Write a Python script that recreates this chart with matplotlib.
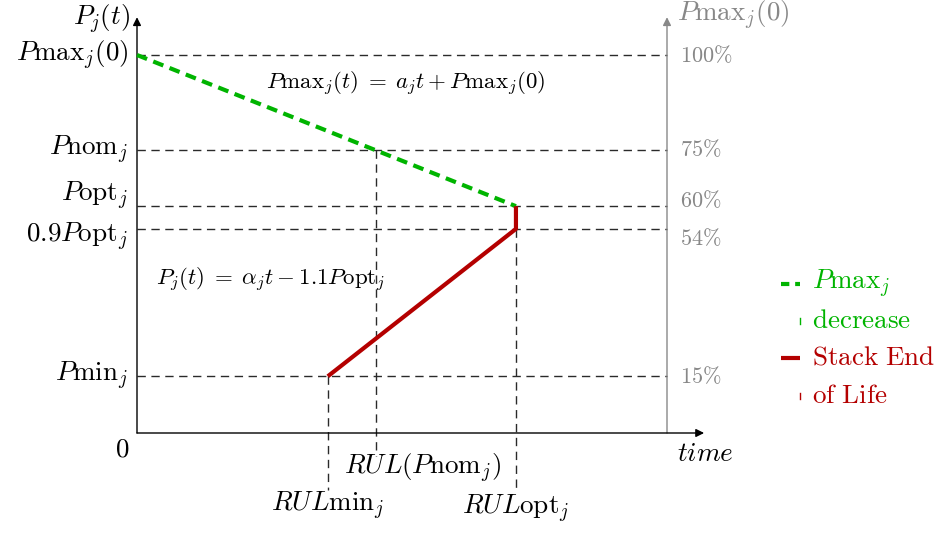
import matplotlib.pyplot as plt

plt.rcParams["mathtext.fontset"] = "cm"
plt.rcParams["font.family"] = "serif"
plt.rcParams["font.serif"] = ["cmr10", "DejaVu Serif"]

# levels in % of Pmax_j(0), times in arbitrary units (right axis = 100)
LEVELS = [100, 75, 60, 54, 15]
LEVEL_LABELS = [r"$P\mathrm{max}_j(0)$", r"$P\mathrm{nom}_j$", r"$P\mathrm{opt}_j$",
                r"$0.9P\mathrm{opt}_j$", r"$P\mathrm{min}_j$"]
PCT_LABELS = [r"$100\%$", r"$75\%$", r"$60\%$", r"$54\%$", r"$15\%$"]
T_MIN, T_NOM, T_OPT = 36.0, 45.1, 71.5
T_RIGHT = 100

pmax_t = [0, T_OPT]
pmax_p = [100, 60]
eol_t = [T_MIN, T_OPT, T_OPT]
eol_p = [15, 54, 60]

GREEN = "#00b400"
RED = "#b40000"
GRAY = "#888888"

fig = plt.figure(figsize=(9.34, 5.34), dpi=100)
ax = fig.add_axes([137 / 934, 101 / 534, 530 / 934, 378 / 534])
ax.set_xlim(0, 100)
ax.set_ylim(0, 100)
ax.axis("off")

px_x = 100 / 530
px_y = 100 / 378

# axes with arrows
ax.annotate("", xy=(0, 110), xytext=(0, 0), annotation_clip=False,
            arrowprops=dict(arrowstyle="-|>", color="black", lw=1.0,
                            mutation_scale=12, shrinkA=0, shrinkB=0))
ax.annotate("", xy=(T_RIGHT, 110), xytext=(T_RIGHT, 0), annotation_clip=False,
            arrowprops=dict(arrowstyle="-|>", color=GRAY, lw=1.0,
                            mutation_scale=12, shrinkA=0, shrinkB=0))
ax.annotate("", xy=(107, 0), xytext=(0, 0), annotation_clip=False,
            arrowprops=dict(arrowstyle="-|>", color="black", lw=1.0,
                            mutation_scale=12, shrinkA=0, shrinkB=0))

# dashed guides
dash = dict(color="#2a2a2a", lw=1.0, ls=(0, (6, 4)), clip_on=False, zorder=1)
for lv in LEVELS:
    ax.plot([0, T_RIGHT], [lv, lv], **dash)
ax.plot([T_MIN, T_MIN], [15, -15], **dash)
ax.plot([T_NOM, T_NOM], [75, -6], **dash)
ax.plot([T_OPT, T_OPT], [54, -15], **dash)

# curves
ax.plot(pmax_t, pmax_p, color=GREEN, lw=3, ls=(0, (2.6, 1.6)), clip_on=False, zorder=3)
ax.plot(eol_t, eol_p, color=RED, lw=3, clip_on=False, zorder=3, solid_capstyle="butt")

fs = 19.5
# left labels
for lv, lab in zip(LEVELS, LEVEL_LABELS):
    dy = 0
    if lv == 60:
        dy = 2.6
    elif lv == 54:
        dy = -2.2
    ax.text(-9 * px_x, lv + dy, lab, ha="right", va="center", fontsize=fs, clip_on=False)
ax.text(-7 * px_x, 109.5, r"$P_j(t)$", ha="right", va="center", fontsize=fs)
ax.text(-15 * px_x, -4.5, r"$0$", ha="center", va="center", fontsize=fs)

# right percentage labels
for lv, lab in zip(LEVELS, PCT_LABELS):
    dy = 0
    if lv == 60:
        dy = 1.6
    elif lv == 54:
        dy = -2.6
    ax.text(T_RIGHT + 13 * px_x, lv + dy, lab, ha="left", va="center",
            fontsize=16, color=GRAY)
ax.text(T_RIGHT + 10 * px_x, 110.5, r"$P\mathrm{max}_j(0)$", ha="left", va="center",
        fontsize=fs, color=GRAY)
ax.text(T_RIGHT + 10 * px_x, -5.5, r"$time$", ha="left", va="center", fontsize=fs)

# equations
ax.text(50.6, 92.3, r"$P\mathrm{max}_j(t)\;=\;a_j t + P\mathrm{max}_j(0)$",
        ha="center", va="center", fontsize=16.5)
ax.text(25.2, 40.6, r"$P_j(t)\;=\;\alpha_j t - 1.1P\mathrm{opt}_j$",
        ha="center", va="center", fontsize=16.5)

# bottom labels
ax.text(53.9, -9.3, r"$RUL(P\mathrm{nom}_j)$", ha="center", va="center", fontsize=fs)
ax.text(T_MIN, -19.3, r"$RUL\mathrm{min}_j$", ha="center", va="center", fontsize=fs)
ax.text(T_OPT, -20.1, r"$RUL\mathrm{opt}_j$", ha="center", va="center", fontsize=fs)

# legend
lx0, lx1 = 121.6, 125
tx = 127.3
y1 = (433 - 284) * px_y
y2 = (433 - 321) * px_y
y3 = (433 - 358) * px_y
y4 = (433 - 396) * px_y
ax.plot([lx0, lx1], [y1, y1], color=GREEN, lw=3, ls=(0, (2.0, 1.4)), clip_on=False)
ax.plot([lx1, lx1], [y2 - 0.8, y2 + 0.8], color=GREEN, lw=1, clip_on=False)
ax.plot([lx0, lx1], [y3, y3], color=RED, lw=3, clip_on=False, solid_capstyle="butt")
ax.plot([lx1, lx1], [y4 - 0.8, y4 + 0.8], color=RED, lw=1, clip_on=False)
ax.text(tx, y1, r"$P\mathrm{max}_j$", ha="left", va="center", fontsize=fs, color=GREEN)
ax.text(tx, y2, r"$\mathrm{decrease}$", ha="left", va="center", fontsize=fs, color=GREEN)
ax.text(tx, y3, r"$\mathrm{Stack\ End}$", ha="left", va="center", fontsize=fs, color=RED)
ax.text(tx, y4, r"$\mathrm{of\ Life}$", ha="left", va="center", fontsize=fs, color=RED)

fig.savefig("out.png", dpi=100)
